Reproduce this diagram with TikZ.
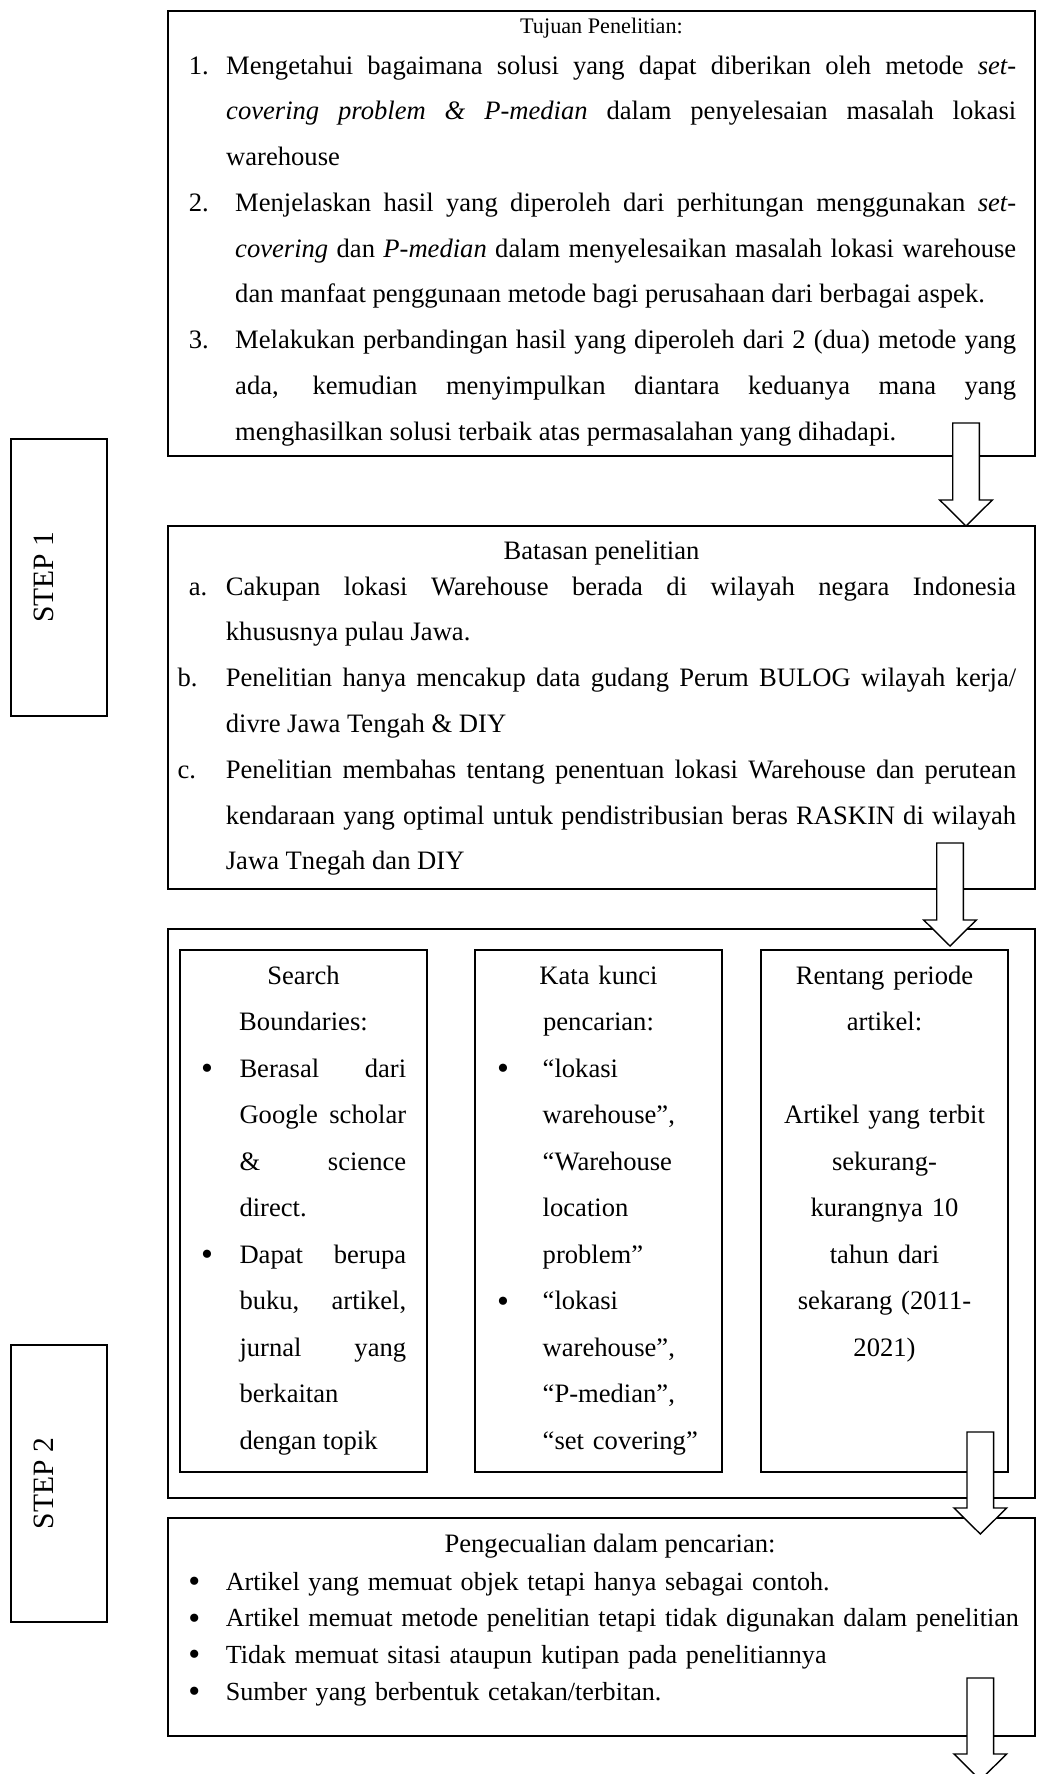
\documentclass[tikz,border=0pt]{standalone}
\usepackage{fontspec}
\setmainfont{Liberation Serif}
\usetikzlibrary{positioning,calc}

\tolerance=10000
\hbadness=10000
\hyphenpenalty=10000
\exhyphenpenalty=10000

\newcommand{\hangitem}[2]{\ifvmode\noindent\fi\hangindent=#1\hangafter=0\strut\llap{\makebox[#1][l]{#2}}}
\newcommand{\bul}{{\fontsize{34}{34}\selectfont\raisebox{-2.5pt}{\textbullet}}}

\begin{document}
\begin{tikzpicture}[
    x=1pt, y=-1pt,
    box/.style={
        draw, line width=1.4pt, inner sep=0pt, outer sep=0pt, minimum width=867pt
    },
    inbox/.style={
        draw, line width=1.4pt, inner sep=0pt, outer sep=0pt,
        minimum width=247pt, minimum height=522pt
    },
    stepbox/.style={
        draw, line width=1.3pt, inner sep=0pt, outer sep=0pt,
        minimum width=96pt, minimum height=277pt, anchor=north west
    },
    steplabel/.style={rotate=90, anchor=base, inner sep=0pt, font=\fontsize{29.5}{35}\selectfont},
    head/.style={anchor=base, inner sep=0pt, font=\fontsize{26.6}{32}\selectfont},
    body/.style={anchor=north west, inner sep=0pt, align=justify},
    colhead/.style={anchor=north, inner sep=0pt, text width=247pt, align=center,
        font=\fontsize{26.6}{46.5}\selectfont},
    blockarr/.style={draw, fill=white, line width=1.4pt,
        to path={([xshift=-13.3pt]\tikztostart) -- ([xshift=-13.3pt,yshift=26pt]\tikztotarget)
            -- ([xshift=-26.3pt,yshift=26pt]\tikztotarget) -- (\tikztotarget)
            -- ([xshift=26.3pt,yshift=26pt]\tikztotarget) -- ([xshift=13.3pt,yshift=26pt]\tikztotarget)
            -- ([xshift=13.3pt]\tikztostart) -- cycle}}
]

\useasboundingbox[fill=white] (0,0) rectangle (1040,1774);

% Step labels
\node[stepbox] (step1) at (11,439) {};
\node[stepbox] (step2) at (11,1345) {};
\node[steplabel] (step1lbl) at ([xshift=-6pt]step1.center) {STEP 1};
\node[steplabel] (step2lbl) at ([xshift=-6pt]step2.center) {STEP 2};

% Main boxes
\node[box, minimum height=445pt, anchor=north west] (tujuan) at (168,11) {};
\node[box, minimum height=363pt, below=70pt of tujuan] (batasan) {};
\node[box, minimum height=569pt, below=40pt of batasan] (kriteria) {};
\node[box, minimum height=218pt, below=20pt of kriteria] (kecuali) {};

% Inner boxes of the search criteria
\node[inbox, below right=21pt and 12pt of kriteria.north west] (ib1) {};
\node[inbox, right=48pt of ib1] (ib2) {};
\node[inbox, right=39pt of ib2] (ib3) {};

% Tujuan penelitian
\node[head, font=\fontsize{22.2}{26}\selectfont] (tujuanHead) at (601.5,34) {Tujuan Penelitian:};
\node[body, text width=827.3pt, font=\fontsize{26.6}{45.75}\selectfont] (tujuanTxt) at (188.7,42) {%
\hangitem{37.3pt}{1.}Mengetahui bagaimana solusi yang dapat diberikan oleh metode \textit{set-}\linebreak
\textit{covering problem \& P-median} dalam penyelesaian masalah lokasi\linebreak warehouse
\par\hangitem{46.3pt}{2.}Menjelaskan hasil yang diperoleh dari perhitungan menggunakan \textit{set-}\linebreak
\textit{covering} dan \textit{P-median} dalam menyelesaikan masalah lokasi warehouse\linebreak
dan manfaat penggunaan metode bagi perusahaan dari berbagai aspek.
\par\hangitem{46.3pt}{3.}Melakukan perbandingan hasil yang diperoleh dari 2 (dua) metode yang\linebreak
ada, kemudian menyimpulkan diantara keduanya mana yang\linebreak
menghasilkan solusi terbaik atas permasalahan yang dihadapi.\par};

% Batasan penelitian
\node[head] (batasanHead) at (601.5,559) {Batasan penelitian};
\node[body, text width=838.7pt, font=\fontsize{26.6}{45.8}\selectfont] (batasanTxt) at (177.3,562.9) {%
\hangitem{48.4pt}{\hspace*{11.4pt}a.}Cakupan lokasi Warehouse berada di wilayah negara Indonesia\linebreak
khususnya pulau Jawa.
\par\hangitem{48.4pt}{b.}Penelitian hanya mencakup data gudang Perum BULOG wilayah kerja/\linebreak
divre Jawa Tengah \& DIY
\par\hangitem{48.4pt}{c.}Penelitian membahas tentang penentuan lokasi Warehouse dan perutean\linebreak
kendaraan yang optimal untuk pendistribusian beras RASKIN di wilayah\linebreak
Jawa Tnegah dan DIY\par};

% Search boundaries
\node[colhead] (ib1Head) at ([yshift=-1.5pt]ib1.north) {\strut Search\\Boundaries:};
\node[body, text width=205pt, font=\fontsize{26.6}{46.5}\selectfont] (ib1Txt) at (201,1044.45) {%
\hangitem{38.3pt}{\bul}Berasal dari\linebreak Google scholar\linebreak \& science\linebreak direct.
\par\hangitem{38.3pt}{\bul}Dapat berupa\linebreak buku, artikel,\linebreak jurnal yang\linebreak
berkaitan\linebreak dengan topik\par};

% Kata kunci
\node[colhead] (ib2Head) at ([yshift=-1.5pt]ib2.north) {\strut Kata kunci\\pencarian:};
\node[body, align=left, text width=215pt, font=\fontsize{26.6}{46.5}\selectfont] (ib2Txt) at (497,1044.45) {%
\hangitem{45.5pt}{\bul}“lokasi\newline warehouse”,\newline “Warehouse\newline location\newline problem”
\par\hangitem{45.5pt}{\bul}“lokasi\newline warehouse”,\newline “P-median”,\newline “set covering”\par};

% Rentang periode
\node[colhead] (ib3Txt) at ([yshift=-1.5pt]ib3.north) {\strut Rentang periode\\artikel:\\[46.5pt]
Artikel yang terbit\\sekurang-\\kurangnya 10\\tahun dari\\sekarang (2011-\\2021)};

% Pengecualian
\node[head] (kecualiHead) at (610,1552) {Pengecualian dalam pencarian:};
\node[body, align=left, text width=850pt, font=\fontsize{26.1}{36.6}\selectfont] (kecualiTxt) at (188.05,1564.4) {%
\hangitem{37.6pt}{\bul}Artikel yang memuat objek tetapi hanya sebagai contoh.
\par\hangitem{37.6pt}{\bul}Artikel memuat metode penelitian tetapi tidak digunakan dalam penelitian
\par\hangitem{37.6pt}{\bul}Tidak memuat sitasi ataupun kutipan pada penelitiannya
\par\hangitem{37.6pt}{\bul}Sumber yang berbentuk cetakan/terbitan.\par};

% Block arrows
\coordinate (a1s) at (966,423);
\coordinate (a1e) at (a1s |- batasan.north);
\coordinate (a2s) at (950,843);
\coordinate (a2e) at (950,946);
\coordinate (a3s) at (980.3,1432);
\coordinate (a3e) at (980.3,1534);
\coordinate (a4s) at (980.3,1678);
\coordinate (a4e) at (980.3,1780);

\foreach \from/\to in {a1s/a1e, a2s/a2e, a3s/a3e, a4s/a4e}
{
    \draw[blockarr] (\from) to (\to);
}

\end{tikzpicture}
\end{document}
